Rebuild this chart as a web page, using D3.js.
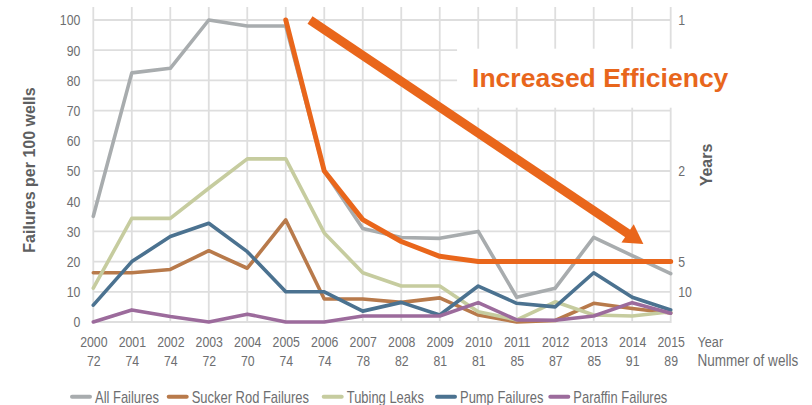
<!DOCTYPE html>
<html>
<head>
<meta charset="utf-8">
<script src="https://cdn.jsdelivr.net/npm/d3@7"></script>
<style>
  html, body { margin: 0; padding: 0; background: #fff; }
  svg { display: block; }
  .tick text { font-family: "Liberation Sans", Arial, sans-serif; }
</style>
</head>
<body>
<svg id="chart" width="812" height="405"></svg>
<script>
// ---------- data ----------
const years = [2000, 2001, 2002, 2003, 2004, 2005, 2006, 2007, 2008, 2009, 2010, 2011, 2012, 2013, 2014, 2015];
const wells = [72, 74, 74, 72, 70, 74, 74, 78, 82, 81, 81, 85, 87, 85, 91, 89];
const allFailures = [35, 82.5, 84, 100, 98, 98, 50, 31, 28, 27.7, 30, 8.2, 11.2, 28, 22, 16];
const suckerRodFailures = [16.3, 16.3, 17.4, 23.6, 17.8, 33.8, 7.6, 7.6, 6.5, 8, 2.3, 0, 0.5, 6.2, 4.5, 3];
const tubingLeaks = [11.2, 34.3, 34.3, 44.3, 54, 54, 29.5, 16.3, 11.9, 11.9, 3.4, 0.7, 6.7, 2.3, 2, 3.4];
const pumpFailures = [5.6, 20, 28.3, 32.7, 23.3, 10, 10, 3.6, 6.5, 2.3, 11.9, 6.2, 5, 16.3, 8.2, 4];
const paraffinFailures = [0, 4, 1.8, 0, 2.6, 0, 0, 2, 2, 2, 6.4, 0.7, 0.6, 2, 6.4, 2.9];
const efficiencyYears = [2005, 2006, 2007, 2008, 2009, 2010, 2011, 2012, 2013, 2014, 2015];
const efficiencyValues = [1, 2, 2.95, 3.75, 4.6, 5, 5, 5, 5, 5, 5]; // years between failures (right axis)
const leftTicks = [0, 10, 20, 30, 40, 50, 60, 70, 80, 90, 100];
const rightTicks = [1, 2, 5, 10];
const seriesNames = ["All Failures", "Sucker Rod Failures", "Tubing Leaks", "Pump Failures", "Paraffin Failures"];
const seriesColors = ["#a8acae", "#b87a4b", "#c6cc9f", "#4b7290", "#9c6b9c"];
const seriesValues = [allFailures, suckerRodFailures, tubingLeaks, pumpFailures, paraffinFailures];
const annotationText = "Increased Efficiency";
// annotation arrow in data coordinates: [year, failures]
const arrowFrom = [2005.63, 100];
const arrowTo = [2014.29, 25.8];

// ---------- layout ----------
const svg = d3.select("#chart");
const mLeft = 93.3, mRight = 670.7, mTop = 20, mBottom = 322;
const x = d3.scaleLinear().domain([2000, 2015]).range([mLeft, mRight]);
const y = d3.scaleLinear().domain([0, 100]).range([mBottom, mTop]);
const yR = d3.scalePow().exponent(-1).domain([1, 10]).range([y(100), y(10)]);

const tickColor = "#6d6e70";
const sans = '"Liberation Sans", Arial, sans-serif';
const NARROW = 0.82;
// emulate a condensed face by compressing glyphs horizontally
function condense(sel, k) {
  sel.each(function () {
    const xa = +(this.getAttribute("x") || 0);
    this.setAttribute("x", xa / k);
    const tr = this.getAttribute("transform") || "";
    this.setAttribute("transform", `${tr} scale(${k},1)`);
  });
}

// grid
const grid = svg.append("g").attr("stroke", "#dedede").attr("stroke-width", 1.8);
grid.selectAll("line.h").data(leftTicks).join("line").attr("class", "h")
  .attr("x1", mLeft).attr("x2", mRight)
  .attr("y1", d => y(d)).attr("y2", d => y(d));
grid.selectAll("line.v").data(years).join("line").attr("class", "v")
  .attr("x1", d => x(d)).attr("x2", d => x(d))
  .attr("y1", 7).attr("y2", mBottom + 1);

// left axis
const gl = svg.append("g").attr("transform", `translate(${mLeft},0)`)
  .call(d3.axisLeft(y).tickValues(leftTicks).tickSize(0).tickPadding(13));
gl.select(".domain").remove();
gl.selectAll("text").attr("font-size", 15).attr("fill", tickColor).call(condense, NARROW);

// right axis
const gr = svg.append("g").attr("transform", `translate(${mRight},0)`)
  .call(d3.axisRight(yR).tickValues(rightTicks).tickSize(0).tickPadding(7.5).tickFormat(d3.format("d")));
gr.select(".domain").remove();
gr.selectAll("text").attr("font-size", 15).attr("fill", tickColor).call(condense, NARROW);

// bottom axes: years and number of wells
const gx1 = svg.append("g").attr("transform", `translate(0,${mBottom})`)
  .call(d3.axisBottom(x).tickValues(years).tickSize(0).tickPadding(13.9).tickFormat(d3.format("d")));
gx1.select(".domain").remove();
gx1.selectAll("text").attr("font-size", 15).attr("fill", tickColor).call(condense, NARROW);

const gx2 = svg.append("g").attr("transform", `translate(0,${mBottom})`)
  .call(d3.axisBottom(x).tickValues(years).tickSize(0).tickPadding(33.4)
    .tickFormat((d, i) => wells[i]));
gx2.select(".domain").remove();
gx2.selectAll("text").attr("font-size", 15).attr("fill", tickColor).call(condense, NARROW);

svg.append("text").attr("transform", "translate(697.5,346.5)")
  .attr("font-family", sans).attr("font-size", 15.5).attr("fill", tickColor).text("Year")
  .call(condense, NARROW);
svg.append("text").attr("transform", "translate(697.5,366)")
  .attr("font-family", sans).attr("font-size", 16.5).attr("fill", tickColor).text("Nummer of wells")
  .call(condense, NARROW);

// axis titles
svg.append("text").attr("transform", "translate(34.5,170) rotate(-90)")
  .attr("text-anchor", "middle").attr("font-family", sans).attr("font-weight", "bold")
  .attr("font-size", 16).attr("fill", "#5e5f61").text("Failures per 100 wells");
svg.append("text").attr("transform", "translate(711.5,165) rotate(-90)")
  .attr("text-anchor", "middle").attr("font-family", sans).attr("font-weight", "bold")
  .attr("font-size", 16).attr("fill", "#5e5f61").text("Years");

// annotation text with white background
const ann = svg.append("g");
ann.append("rect").attr("x", x(2009.45)).attr("y", y(90.5)).attr("width", 278).attr("height", 59).attr("fill", "#fff");
ann.append("text").attr("x", x(2009.84)).attr("y", y(77.8))
  .attr("font-family", sans).attr("font-weight", "bold").attr("font-size", 26.5)
  .attr("fill", "#e8661c").text(annotationText);

// series lines
const line = d3.line().x((d, i) => x(years[i])).y(d => y(d));
svg.append("g").selectAll("path").data(seriesValues).join("path")
  .attr("d", d => line(d)).attr("fill", "none")
  .attr("stroke", (d, i) => seriesColors[i]).attr("stroke-width", 3.6)
  .attr("stroke-linejoin", "round").attr("stroke-linecap", "round");

// efficiency line (years, right axis)
const effLine = d3.line()
  .x((d, i) => x(efficiencyYears[i])).y(d => yR(d));
svg.append("path").attr("d", effLine(efficiencyValues)).attr("fill", "none")
  .attr("stroke", "#e9661b").attr("stroke-width", 5).attr("stroke-linecap", "round")
  .attr("stroke-linejoin", "round");

// arrow
const ax0 = x(arrowFrom[0]), ay0 = y(arrowFrom[1]), ax1 = x(arrowTo[0]), ay1 = y(arrowTo[1]);
const ang = Math.atan2(ay1 - ay0, ax1 - ax0);
const headLen = 19, headHalf = 11;
const bx = ax1 - headLen * Math.cos(ang), by = ay1 - headLen * Math.sin(ang);
svg.append("line").attr("x1", ax0).attr("y1", ay0).attr("x2", bx + 2 * Math.cos(ang)).attr("y2", by + 2 * Math.sin(ang))
  .attr("stroke", "#e9661b").attr("stroke-width", 9);
svg.append("path")
  .attr("d", `M${ax1},${ay1}L${bx + headHalf * Math.sin(ang)},${by - headHalf * Math.cos(ang)}L${bx - headHalf * Math.sin(ang)},${by + headHalf * Math.cos(ang)}Z`)
  .attr("fill", "#e9661b");

// legend
const legendTextX = [95, 191.7, 346.7, 460, 573.3];
const lg = svg.append("g");
seriesNames.forEach((name, i) => {
  const tx = legendTextX[i];
  lg.append("line").attr("x1", tx - 23).attr("x2", tx - 5).attr("y1", 396.7).attr("y2", 396.7)
    .attr("stroke", seriesColors[i]).attr("stroke-width", 4).attr("stroke-linecap", "round");
  lg.append("text").attr("transform", `translate(${tx},402.5)`)
    .attr("font-family", sans).attr("font-size", 15.8).attr("fill", tickColor).text(name)
    .call(condense, NARROW);
});
</script>
</body>
</html>
